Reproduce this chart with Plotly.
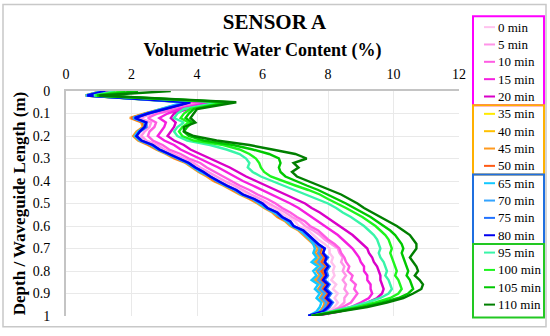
import plotly.graph_objects as go

# depth along the waveguide (m), shared by every profile
DEPTH = [0, 0.02, 0.05, 0.08, 0.10, 0.12, 0.14, 0.16, 0.18, 0.20,
         0.22, 0.24, 0.26, 0.28, 0.30, 0.32, 0.34, 0.36, 0.38, 0.40,
         0.42, 0.44, 0.46, 0.48, 0.50, 0.52, 0.54, 0.56, 0.58, 0.60,
         0.62, 0.64, 0.66, 0.68, 0.70, 0.72, 0.74, 0.76, 0.78, 0.80,
         0.82, 0.84, 0.86, 0.88, 0.90, 0.92, 0.94, 0.96, 0.98, 1.00]

# volumetric water content (%) per elapsed time
VWC_0 = [1.2, 0.65, 3.85, 3.05, 2.55, 2.15, 2.5, 2.45, 2.3, 2.2,
         2.35, 2.7, 2.9, 3.2, 3.5, 3.8, 4.0, 4.25, 4.5, 4.75,
         5.0, 5.3, 5.5, 5.85, 6.1, 6.3, 6.55, 6.75, 7.0, 7.1,
         7.4, 7.55, 7.7, 7.9, 8.05, 8.05, 8.15, 8.1, 8.2, 8.15,
         8.2, 8.1, 8.25, 8.15, 8.3, 8.2, 8.3, 8.2, 8.0, 7.45]
VWC_5 = [1.25, 0.7, 3.95, 3.15, 2.65, 2.25, 2.6, 2.55, 2.4, 2.3,
         2.45, 2.8, 3.0, 3.3, 3.6, 3.9, 4.1, 4.35, 4.6, 4.85,
         5.15, 5.4, 5.65, 5.95, 6.2, 6.45, 6.7, 6.9, 7.15, 7.3,
         7.55, 7.75, 7.9, 8.1, 8.3, 8.35, 8.45, 8.4, 8.5, 8.45,
         8.55, 8.45, 8.55, 8.5, 8.6, 8.5, 8.5, 8.35, 8.1, 7.5]
VWC_10 = [1.3, 0.75, 4.2, 3.3, 2.8, 2.5, 2.75, 2.7, 2.55, 2.5,
          2.65, 2.95, 3.15, 3.5, 3.75, 4.1, 4.3, 4.55, 4.8, 5.05,
          5.3, 5.6, 5.85, 6.15, 6.4, 6.6, 6.85, 7.05, 7.3, 7.45,
          7.7, 7.85, 8.0, 8.2, 8.35, 8.4, 8.5, 8.55, 8.65, 8.6,
          8.75, 8.7, 8.85, 8.8, 8.9, 8.8, 8.7, 8.45, 8.1, 7.5]
VWC_15 = [1.35, 0.8, 4.4, 3.5, 3.1, 2.85, 3.05, 3.0, 2.9, 2.8,
          3.0, 3.3, 3.5, 3.8, 4.1, 4.4, 4.65, 4.9, 5.15, 5.4,
          5.7, 6.0, 6.3, 6.6, 6.85, 7.1, 7.3, 7.5, 7.7, 7.9,
          8.1, 8.3, 8.45, 8.6, 8.75, 8.85, 8.95, 9.0, 9.1, 9.1,
          9.2, 9.2, 9.3, 9.3, 9.35, 9.25, 9.0, 8.7, 8.25, 7.55]
VWC_20 = [1.4, 0.8, 4.6, 3.7, 3.3, 3.2, 3.35, 3.3, 3.2, 3.1,
          3.3, 3.6, 3.8, 4.1, 4.4, 4.75, 5.0, 5.25, 5.5, 5.8,
          6.1, 6.45, 6.75, 7.05, 7.3, 7.5, 7.75, 7.95, 8.15, 8.35,
          8.55, 8.75, 8.9, 9.05, 9.2, 9.25, 9.35, 9.4, 9.5, 9.55,
          9.6, 9.6, 9.65, 9.7, 9.65, 9.5, 9.2, 8.85, 8.35, 7.6]
VWC_35 = [1.1, 0.6, 3.7, 2.9, 2.45, 2.05, 2.4, 2.35, 2.2, 2.1,
          2.3, 2.6, 2.8, 3.1, 3.4, 3.7, 3.9, 4.15, 4.35, 4.6,
          4.85, 5.15, 5.35, 5.7, 5.95, 6.1, 6.4, 6.55, 6.8, 6.9,
          7.2, 7.35, 7.5, 7.65, 7.85, 7.8, 7.9, 7.85, 7.95, 7.85,
          7.9, 7.8, 7.95, 7.85, 8.0, 7.9, 8.05, 7.95, 7.8, 7.4]
VWC_40 = [1.15, 0.6, 3.75, 2.95, 2.45, 2.0, 2.35, 2.4, 2.2, 2.1,
          2.25, 2.55, 2.8, 3.1, 3.35, 3.7, 3.9, 4.1, 4.35, 4.55,
          4.85, 5.1, 5.35, 5.65, 5.9, 6.1, 6.35, 6.55, 6.75, 6.9,
          7.15, 7.3, 7.45, 7.6, 7.8, 7.7, 7.85, 7.7, 7.9, 7.75,
          7.85, 7.7, 7.9, 7.8, 7.95, 7.85, 8.0, 7.9, 7.8, 7.4]
VWC_45 = [1.1, 0.6, 3.7, 2.9, 2.4, 1.95, 2.3, 2.35, 2.15, 2.05,
          2.2, 2.5, 2.75, 3.05, 3.3, 3.65, 3.85, 4.05, 4.3, 4.5,
          4.8, 5.05, 5.3, 5.6, 5.85, 6.05, 6.3, 6.45, 6.7, 6.85,
          7.1, 7.25, 7.4, 7.55, 7.7, 7.6, 7.75, 7.6, 7.8, 7.65,
          7.75, 7.6, 7.8, 7.7, 7.85, 7.75, 7.9, 7.85, 7.75, 7.4]
VWC_50 = [1.15, 0.62, 3.75, 2.95, 2.45, 2.0, 2.35, 2.4, 2.2, 2.1,
          2.25, 2.55, 2.8, 3.1, 3.35, 3.7, 3.9, 4.1, 4.4, 4.55,
          4.9, 5.1, 5.4, 5.65, 5.95, 6.1, 6.4, 6.5, 6.8, 6.9,
          7.2, 7.3, 7.5, 7.6, 7.8, 7.75, 7.9, 7.8, 7.9, 7.8,
          7.9, 7.8, 7.9, 7.85, 8.0, 7.9, 8.0, 7.95, 7.8, 7.4]
VWC_65 = [1.1, 0.6, 3.6, 2.9, 2.45, 2.05, 2.4, 2.4, 2.2, 2.1,
          2.25, 2.6, 2.8, 3.1, 3.4, 3.7, 3.9, 4.1, 4.4, 4.6,
          4.85, 5.15, 5.35, 5.7, 5.9, 6.1, 6.35, 6.55, 6.75, 6.9,
          7.15, 7.3, 7.45, 7.55, 7.6, 7.55, 7.65, 7.5, 7.7, 7.55,
          7.65, 7.5, 7.7, 7.6, 7.75, 7.65, 7.8, 7.75, 7.65, 7.4]
VWC_70 = [1.15, 0.62, 3.7, 2.95, 2.5, 2.05, 2.45, 2.45, 2.25, 2.15,
          2.3, 2.6, 2.85, 3.15, 3.4, 3.75, 3.95, 4.15, 4.4, 4.6,
          4.9, 5.15, 5.4, 5.7, 5.95, 6.15, 6.4, 6.55, 6.8, 6.95,
          7.2, 7.35, 7.5, 7.65, 7.75, 7.7, 7.8, 7.7, 7.85, 7.7,
          7.8, 7.7, 7.85, 7.75, 7.9, 7.8, 7.95, 7.9, 7.8, 7.4]
VWC_75 = [1.2, 0.65, 3.75, 3.0, 2.5, 2.1, 2.45, 2.45, 2.25, 2.15,
          2.3, 2.65, 2.85, 3.15, 3.45, 3.75, 3.95, 4.2, 4.4, 4.65,
          4.9, 5.2, 5.4, 5.75, 6.0, 6.15, 6.45, 6.6, 6.85, 6.95,
          7.25, 7.4, 7.55, 7.7, 7.9, 7.85, 8.0, 7.9, 8.05, 7.95,
          8.0, 7.9, 8.05, 7.95, 8.1, 8.0, 8.15, 8.05, 7.9, 7.4]
VWC_80 = [1.2, 0.65, 3.8, 3.0, 2.5, 2.1, 2.45, 2.4, 2.25, 2.15,
          2.3, 2.65, 2.85, 3.15, 3.45, 3.75, 3.95, 4.2, 4.4, 4.65,
          4.9, 5.2, 5.4, 5.75, 6.0, 6.15, 6.45, 6.6, 6.85, 6.95,
          7.25, 7.4, 7.55, 7.7, 7.9, 7.85, 7.95, 7.9, 8.0, 7.9,
          7.95, 7.85, 8.0, 7.9, 8.05, 7.95, 8.1, 8.0, 7.85, 7.4]
VWC_95 = [1.5, 0.85, 4.7, 3.6, 3.4, 3.3, 3.6, 3.4, 3.3, 3.4,
          3.7, 4.4, 4.9, 5.3, 5.5, 5.6, 5.55, 5.7, 5.95, 6.3,
          6.65, 7.0, 7.35, 7.7, 8.0, 8.25, 8.45, 8.7, 8.9, 9.1,
          9.25, 9.4, 9.5, 9.55, 9.6, 9.55, 9.6, 9.7, 9.75, 9.8,
          9.75, 9.85, 9.9, 9.95, 9.85, 9.6, 9.2, 8.7, 8.1, 7.5]
VWC_100 = [1.8, 0.9, 4.9, 3.8, 3.6, 3.5, 3.75, 3.55, 3.45, 3.55,
           3.9, 4.8, 5.3, 5.6, 5.8, 5.9, 5.95, 6.05, 6.25, 6.6,
           7.0, 7.4, 7.75, 8.0, 8.3, 8.55, 8.8, 9.05, 9.25, 9.45,
           9.6, 9.75, 9.85, 9.9, 9.95, 9.9, 9.95, 10.0, 10.05, 10.1,
           10.05, 10.15, 10.2, 10.25, 10.15, 9.9, 9.45, 8.9, 8.2, 7.5]
VWC_105 = [2.2, 0.95, 5.0, 3.9, 3.75, 3.65, 3.85, 3.7, 3.6, 3.75,
           4.2, 5.1, 5.7, 6.2, 6.5, 6.55, 6.5, 6.55, 6.7, 7.0,
           7.35, 7.7, 8.0, 8.3, 8.55, 8.8, 9.05, 9.3, 9.5, 9.7,
           9.9, 10.05, 10.15, 10.25, 10.3, 10.25, 10.3, 10.35, 10.4, 10.45,
           10.4, 10.5, 10.55, 10.6, 10.45, 10.15, 9.65, 9.05, 8.3, 7.5]
VWC_110 = [3.2, 1.0, 5.2, 4.0, 3.9, 3.8, 3.95, 3.6, 3.6, 3.9,
           4.6, 5.6, 6.3, 7.0, 7.35, 6.95, 7.1, 6.9, 7.05, 7.4,
           7.75, 8.1, 8.4, 8.65, 8.9, 9.1, 9.35, 9.6, 9.85, 10.1,
           10.3, 10.5, 10.6, 10.7, 10.7, 10.6, 10.5, 10.6, 10.7, 10.75,
           10.65, 10.8, 10.9, 10.85, 10.6, 10.3, 9.8, 9.2, 8.4, 7.5]

LABELS = ["0 min", "5 min", "10 min", "15 min", "20 min",
          "35 min", "40 min", "45 min", "50 min",
          "65 min", "70 min", "75 min", "80 min",
          "95 min", "100 min", "105 min", "110 min"]
SERIES = [VWC_0, VWC_5, VWC_10, VWC_15, VWC_20,
          VWC_35, VWC_40, VWC_45, VWC_50,
          VWC_65, VWC_70, VWC_75, VWC_80,
          VWC_95, VWC_100, VWC_105, VWC_110]
GROUP_SIZES = [5, 4, 4, 4]

COLORS = ["#FFC2EE", "#FF94E8", "#FF5CE3", "#F51FDF", "#D900C8",
          "#FFEA00", "#FFC000", "#FF9A1F", "#FF5A14",
          "#12C8FF", "#34A4FF", "#2272FF", "#0000F0",
          "#38F5A8", "#1EF51E", "#00C800", "#007F00"]
BOX_COLORS = ["#FF00FF", "#FFB000", "#1F6FE0", "#22C822"]

SERIF = "Liberation Serif"

# plot area in pixels (left, right, top, bottom) -> paper conversion
PL, PR, PT, PB = 66, 459, 91, 320


def px_x(px):
    return (px - PL) / (PR - PL)


def px_y(py):
    return (PB - py) / (PB - PT)


fig = go.Figure()
for name, vals, col in zip(LABELS, SERIES, COLORS):
    fig.add_trace(go.Scatter(
        x=vals, y=DEPTH, mode="lines", name=name,
        line=dict(color=col, width=2.4), showlegend=False,
        hovertemplate=name + ": %{x:.2f}%% at %{y:.2f} m<extra></extra>",
    ))

# hand-built legend: short line + label, grouped in coloured boxes
shapes = []
annotations = []
item_y0, item_dy = 26, 17.65
idx = 0
for g, size in enumerate(GROUP_SIZES):
    first = item_y0 + idx * item_dy
    last = item_y0 + (idx + size - 1) * item_dy
    top = first - (11 if g == 0 else item_dy / 2)
    bot = last + (13 if g == len(GROUP_SIZES) - 1 else item_dy / 2)
    shapes.append(dict(type="rect", xref="paper", yref="paper",
                       x0=px_x(473), x1=px_x(544), y0=px_y(bot), y1=px_y(top),
                       line=dict(color=BOX_COLORS[g], width=2), layer="above"))
    for k in range(size):
        yy = item_y0 + (idx + k) * item_dy
        shapes.append(dict(type="line", xref="paper", yref="paper",
                           x0=px_x(484), x1=px_x(495), y0=px_y(yy), y1=px_y(yy),
                           line=dict(color=COLORS[idx + k], width=2)))
        annotations.append(dict(text=LABELS[idx + k], xref="paper", yref="paper",
                                x=px_x(496), y=px_y(yy), xanchor="left", yanchor="middle",
                                showarrow=False, font=dict(family=SERIF, size=13, color="black")))
    idx += size

# chart-area border
shapes.append(dict(type="rect", xref="paper", yref="paper",
                   x0=px_x(3), x1=px_x(546), y0=px_y(331), y1=px_y(3),
                   line=dict(color="#C8C8C8", width=1.5)))

fig.update_layout(
    width=550, height=336,
    margin=dict(l=PL, r=550 - PR, t=PT, b=336 - PB),
    paper_bgcolor="white", plot_bgcolor="white",
    font=dict(family=SERIF, size=14, color="black"),
    title=dict(text="SENSOR A", x=0.499, xref="container", y=1 - 22 / 336,
               yref="container", xanchor="center", yanchor="middle",
               font=dict(family=SERIF, size=21, color="black", weight="bold")),
    shapes=shapes, annotations=annotations, showlegend=False,
)
fig.update_xaxes(
    side="top", range=[0, 12], dtick=2,
    showgrid=True, gridcolor="#E9E9E9", gridwidth=1,
    showline=True, linecolor="#C4C4C4", linewidth=2,
    zeroline=False, ticks="", ticklabelstandoff=4,
    tickfont=dict(family=SERIF, size=14),
    title=dict(text="Volumetric Water Content (%)", standoff=6,
               font=dict(family=SERIF, size=18, color="black", weight="bold")),
)
fig.update_yaxes(
    range=[1, 0], dtick=0.1,
    showgrid=True, gridcolor="#E9E9E9", gridwidth=1,
    showline=True, linecolor="#C4C4C4", linewidth=2,
    zeroline=False, ticks="", ticklabelstandoff=11,
    tickfont=dict(family=SERIF, size=14),
    title=dict(text="Depth / Waveguide Length (m)", standoff=3,
               font=dict(family=SERIF, size=17, color="black", weight="bold")),
)

# the page's default body margin would shift the chart by 8px
fig.write_html("out.html", config={"displayModeBar": False},
               post_script="document.body.style.margin = '0';")
